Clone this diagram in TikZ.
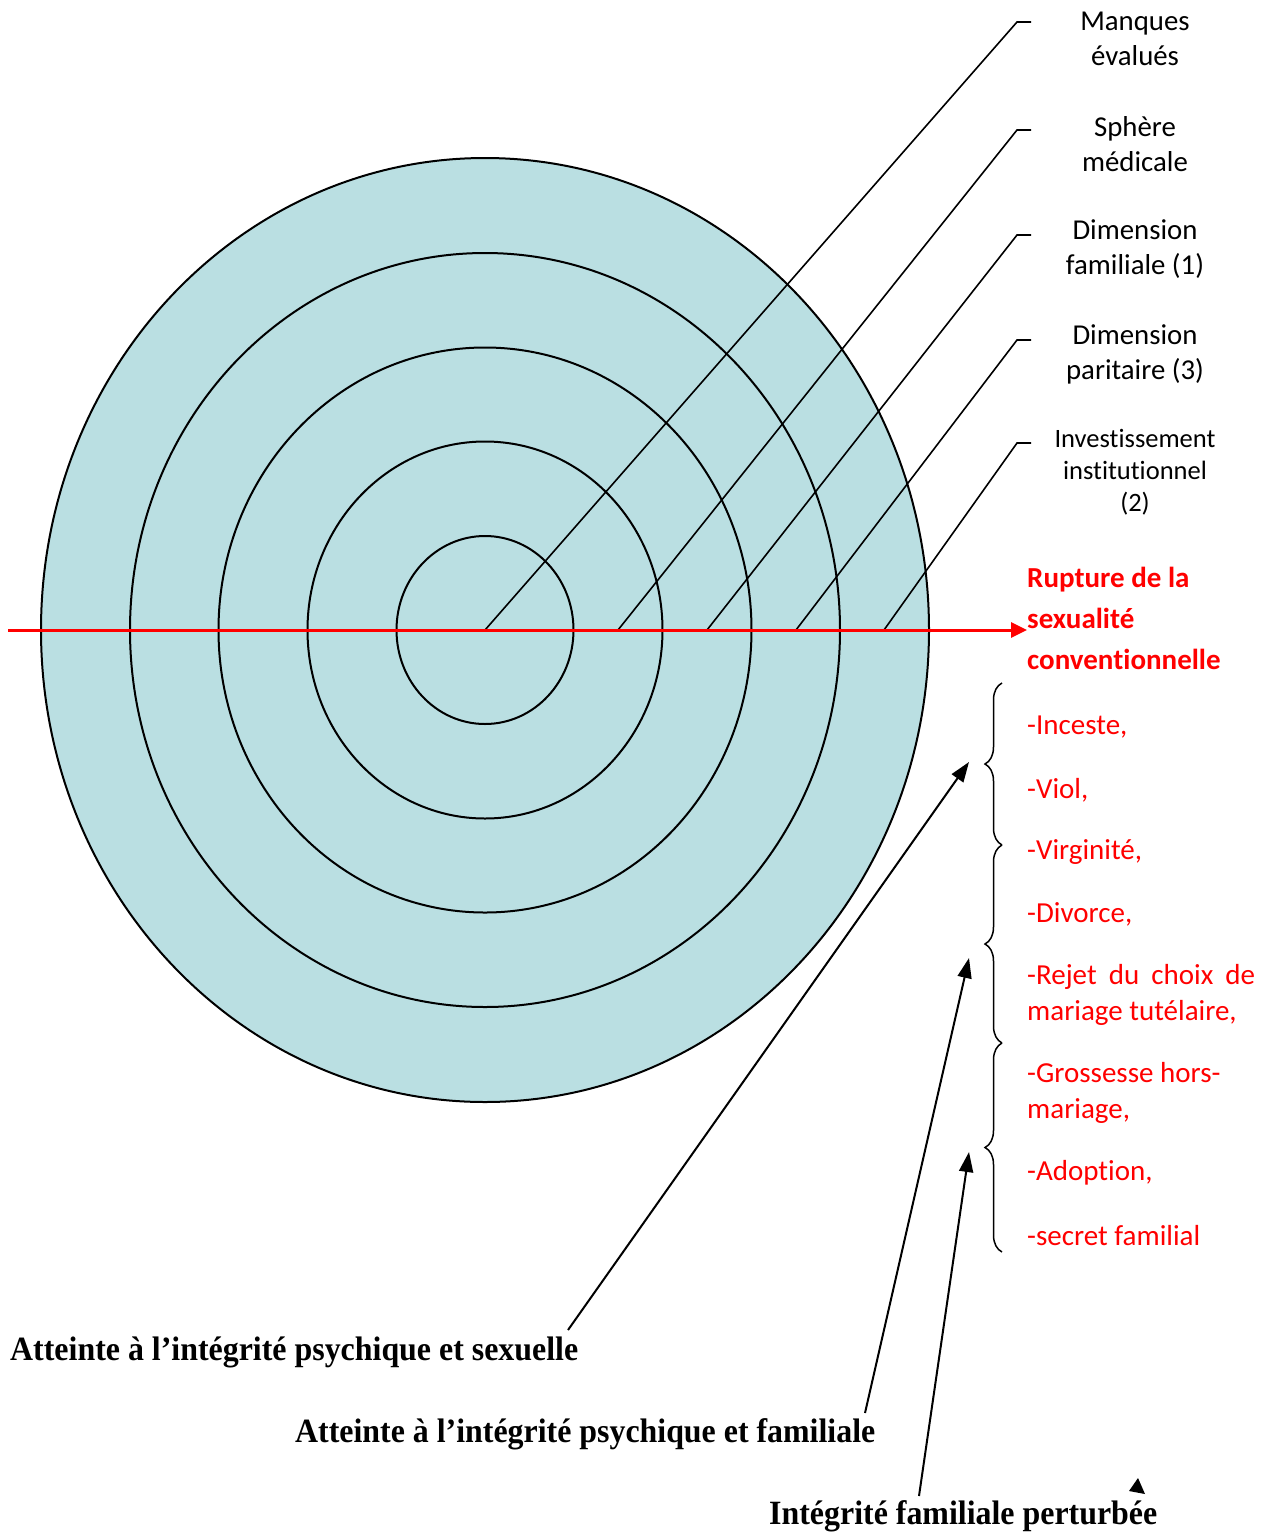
\documentclass[tikz,border=0pt]{standalone}
\usepackage{fontspec}
\usepackage{graphicx}
\setmainfont{Carlito}[Ligatures=NoCommon]
\newfontfamily\timesfont{Liberation Serif}
\usetikzlibrary{arrows.meta,decorations.pathreplacing}
\definecolor{disc}{RGB}{186,223,226}
\definecolor{rupt}{RGB}{255,0,0}
\tikzset{
  ring/.style={draw=black,line width=2pt},
  leader/.style={draw=black,line width=1.6pt},
  dimlabel/.style={align=center,font=\fontsize{28.8}{35}\selectfont,inner sep=0pt},
  smalllabel/.style={align=center,font=\fontsize{26.5}{32}\selectfont,inner sep=0pt},
  redtitle/.style={anchor=west,align=left,text=rupt,inner sep=0pt,font=\fontsize{29}{41}\selectfont\bfseries},
  reditem/.style={anchor=west,align=left,text=rupt,inner sep=0pt,font=\fontsize{29}{36}\selectfont},
  bracket/.style={draw=black,line width=1.5pt,decorate,decoration={brace,amplitude=17pt}},
  pointer/.style={draw=black,line width=2pt,-{Triangle[length=20pt,width=14pt]}},
  caption/.style={anchor=base west,inner sep=0pt,font=\timesfont\bfseries\fontsize{34}{40}\selectfont}
}
\begin{document}
\begin{tikzpicture}[x=1pt,y=-1pt]
\useasboundingbox[fill=white] (0,0) rectangle (1271,1535);

% concentric rings
\fill[disc] (485,630) ellipse [x radius=444, y radius=472];
\draw[ring] (485,630) ellipse [x radius=444, y radius=472];
\draw[ring] (485,630) ellipse [x radius=355, y radius=377];
\draw[ring] (485,630) ellipse [x radius=266.5, y radius=282.5];
\draw[ring] (485,630) ellipse [x radius=177.5, y radius=188.5];
\draw[ring] (485,630) ellipse [x radius=88.5, y radius=94];

% leader lines to the ring labels
\coordinate (c0) at (485,630);
\coordinate (c1) at (618,630);
\coordinate (c2) at (707,630);
\coordinate (c3) at (796,630);
\coordinate (c4) at (884,630);
\coordinate (k0) at (1017,22);
\coordinate (k1) at (1017,130);
\coordinate (k2) at (1017,235);
\coordinate (k3) at (1017,340);
\coordinate (k4) at (1017,443);
\coordinate (e0) at (1031,22);
\coordinate (e1) at (1031,130);
\coordinate (e2) at (1031,235);
\coordinate (e3) at (1031,340);
\coordinate (e4) at (1031,443);
\foreach \i in {0,...,4} {
  \draw[leader,line join=miter] (c\i) -- (k\i) -- (e\i);
}

% ring labels
\node[dimlabel] (manques) at (1135,39) {Manques\\évalués};
\node[dimlabel] (sphere) at (1135,144) {Sphère\\médicale};
\node[dimlabel] (famil) at (1135,249) {Dimension\\familiale (1)};
\node[dimlabel] (parit) at (1135,354) {Dimension\\paritaire (3)};
\node[smalllabel] (invest) at (1135,472) {Investissement\\institutionnel\\(2)};

% horizontal axis
\coordinate (axstart) at (8,630);
\node[redtitle] (rupture) at (1027,618) {Rupture de la\\sexualité\\conventionnelle};
\draw[draw=rupt,line width=3pt,-{Triangle[length=16pt,width=15pt]}] (axstart) -- (rupture.west |- axstart);

% list of ruptures
\node[reditem] (inceste) at (1027,727) {-Inceste,};
\node[reditem] (viol) at (1027,790) {-Viol,};
\node[reditem] (virg) at (1027,852) {-Virginité,};
\node[reditem] (divorce) at (1027,914) {-Divorce,};
\node[reditem] (rejet) at (1027,995) {\makebox[228pt][s]{-Rejet du choix de}\\mariage tutélaire,};
\node[reditem] (grossesse) at (1027,1093) {-Grossesse hors-\\mariage,};
\node[reditem] (adoption) at (1027,1173) {-Adoption,};
\node[reditem] (secret) at (1027,1236) {-secret familial};

% braces grouping the list
\coordinate (b0) at (1002,683);
\coordinate (b1) at (1002,845);
\coordinate (b2) at (1002,1043);
\coordinate (b3) at (1002,1252);
\draw[bracket] (b1) -- (b0);
\draw[bracket] (b2) -- (b1);
\draw[bracket] (b3) -- (b2);

% captions and their pointers
\node[caption] (psysex) at (10,1360) {\resizebox{568pt}{\height}{Atteinte à l’intégrité psychique et sexuelle}};
\node[caption] (psyfam) at (295,1442) {\resizebox{580pt}{\height}{Atteinte à l’intégrité psychique et familiale}};
\node[caption] (perturb) at (769,1524) {\resizebox{388pt}{\height}{Intégrité familiale perturbée}};

\coordinate (t1) at (568,1330);
\coordinate (h1) at (969,762);
\coordinate (t2) at (865,1413);
\coordinate (h2) at (969,958);
\coordinate (t3) at (919,1496);
\coordinate (h3) at (969,1152);
\draw[pointer] (t1) -- (h1);
\draw[pointer] (t2) -- (h2);
\draw[pointer] (t3) -- (h3);

% lone arrow tip above the last caption
\fill[black] (1138,1478) -- (1129,1491) -- (1145,1494) -- cycle;
\end{tikzpicture}
\end{document}
